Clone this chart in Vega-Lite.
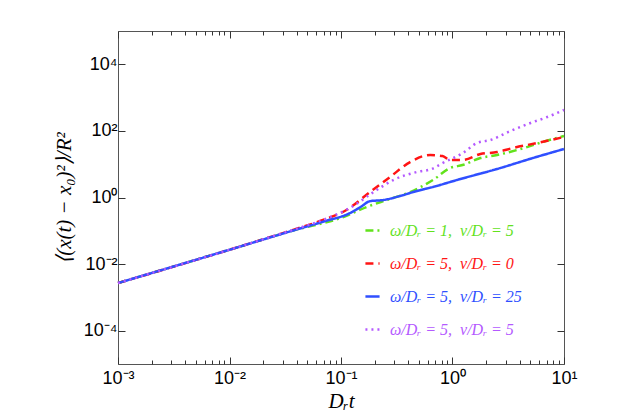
{
  "$schema": "https://vega.github.io/schema/vega-lite/v6.json",
  "description": "Mean squared displacement against Dr t, log-log, four parameter sets",
  "width": 446,
  "height": 333,
  "autosize": "none",
  "padding": {"left": 118, "top": 31, "right": 59, "bottom": 50},
  "background": "white",
  "config": {
    "view": {"stroke": "#555555", "strokeWidth": 1},
    "axis": {
      "grid": false,
      "domain": false,
      "labelFont": "Liberation Sans",
      "labelFontSize": 18,
      "labelColor": "black",
      "tickColor": "#333333",
      "titleFont": "Liberation Serif",
      "titleFontStyle": "italic",
      "titleFontWeight": "normal",
      "titleFontSize": 21,
      "titleColor": "black"
    }
  },
  "data": {
    "values": [
      {"series": "ω/Dᵣ = 1,\u2002ν/Dᵣ = 5", "t": 0.001, "msd": 0.0027},
      {"series": "ω/Dᵣ = 1,\u2002ν/Dᵣ = 5", "t": 0.01, "msd": 0.027},
      {"series": "ω/Dᵣ = 1,\u2002ν/Dᵣ = 5", "t": 0.0372, "msd": 0.102},
      {"series": "ω/Dᵣ = 1,\u2002ν/Dᵣ = 5", "t": 0.105, "msd": 0.26},
      {"series": "ω/Dᵣ = 1,\u2002ν/Dᵣ = 5", "t": 0.17, "msd": 0.519},
      {"series": "ω/Dᵣ = 1,\u2002ν/Dᵣ = 5", "t": 0.257, "msd": 0.841},
      {"series": "ω/Dᵣ = 1,\u2002ν/Dᵣ = 5", "t": 0.417, "msd": 1.46},
      {"series": "ω/Dᵣ = 1,\u2002ν/Dᵣ = 5", "t": 0.668, "msd": 3.35},
      {"series": "ω/Dᵣ = 1,\u2002ν/Dᵣ = 5", "t": 0.955, "msd": 7.69},
      {"series": "ω/Dᵣ = 1,\u2002ν/Dᵣ = 5", "t": 1.23, "msd": 9.46},
      {"series": "ω/Dᵣ = 1,\u2002ν/Dᵣ = 5", "t": 1.78, "msd": 15.3},
      {"series": "ω/Dᵣ = 1,\u2002ν/Dᵣ = 5", "t": 2.51, "msd": 18.9},
      {"series": "ω/Dᵣ = 1,\u2002ν/Dᵣ = 5", "t": 3.8, "msd": 26.7},
      {"series": "ω/Dᵣ = 1,\u2002ν/Dᵣ = 5", "t": 7.41, "msd": 53.3},
      {"series": "ω/Dᵣ = 1,\u2002ν/Dᵣ = 5", "t": 10, "msd": 70.3},

      {"series": "ω/Dᵣ = 5,\u2002ν/Dᵣ = 0", "t": 0.001, "msd": 0.0027},
      {"series": "ω/Dᵣ = 5,\u2002ν/Dᵣ = 0", "t": 0.01, "msd": 0.027},
      {"series": "ω/Dᵣ = 5,\u2002ν/Dᵣ = 0", "t": 0.0372, "msd": 0.107},
      {"series": "ω/Dᵣ = 5,\u2002ν/Dᵣ = 0", "t": 0.069, "msd": 0.211},
      {"series": "ω/Dᵣ = 5,\u2002ν/Dᵣ = 0", "t": 0.112, "msd": 0.422},
      {"series": "ω/Dᵣ = 5,\u2002ν/Dᵣ = 0", "t": 0.182, "msd": 1.46},
      {"series": "ω/Dᵣ = 5,\u2002ν/Dᵣ = 0", "t": 0.275, "msd": 4.13},
      {"series": "ω/Dᵣ = 5,\u2002ν/Dᵣ = 0", "t": 0.417, "msd": 11.6},
      {"series": "ω/Dᵣ = 5,\u2002ν/Dᵣ = 0", "t": 0.631, "msd": 18.9},
      {"series": "ω/Dᵣ = 5,\u2002ν/Dᵣ = 0", "t": 0.813, "msd": 17.6},
      {"series": "ω/Dᵣ = 5,\u2002ν/Dᵣ = 0", "t": 0.955, "msd": 13.4},
      {"series": "ω/Dᵣ = 5,\u2002ν/Dᵣ = 0", "t": 1.23, "msd": 13.4},
      {"series": "ω/Dᵣ = 5,\u2002ν/Dᵣ = 0", "t": 1.78, "msd": 20.2},
      {"series": "ω/Dᵣ = 5,\u2002ν/Dᵣ = 0", "t": 2.51, "msd": 23.2},
      {"series": "ω/Dᵣ = 5,\u2002ν/Dᵣ = 0", "t": 3.47, "msd": 30.6},
      {"series": "ω/Dᵣ = 5,\u2002ν/Dᵣ = 0", "t": 5.75, "msd": 43.3},
      {"series": "ω/Dᵣ = 5,\u2002ν/Dᵣ = 0", "t": 10, "msd": 65.6},

      {"series": "ω/Dᵣ = 5,\u2002ν/Dᵣ = 25", "t": 0.001, "msd": 0.0027},
      {"series": "ω/Dᵣ = 5,\u2002ν/Dᵣ = 25", "t": 0.01, "msd": 0.027},
      {"series": "ω/Dᵣ = 5,\u2002ν/Dᵣ = 25", "t": 0.0372, "msd": 0.102},
      {"series": "ω/Dᵣ = 5,\u2002ν/Dᵣ = 25", "t": 0.07, "msd": 0.19},
      {"series": "ω/Dᵣ = 5,\u2002ν/Dᵣ = 25", "t": 0.12, "msd": 0.339},
      {"series": "ω/Dᵣ = 5,\u2002ν/Dᵣ = 25", "t": 0.15, "msd": 0.52},
      {"series": "ω/Dᵣ = 5,\u2002ν/Dᵣ = 25", "t": 0.182, "msd": 0.776},
      {"series": "ω/Dᵣ = 5,\u2002ν/Dᵣ = 25", "t": 0.24, "msd": 0.841},
      {"series": "ω/Dᵣ = 5,\u2002ν/Dᵣ = 25", "t": 0.339, "msd": 1.11},
      {"series": "ω/Dᵣ = 5,\u2002ν/Dᵣ = 25", "t": 0.479, "msd": 1.57},
      {"series": "ω/Dᵣ = 5,\u2002ν/Dᵣ = 25", "t": 0.668, "msd": 2.07},
      {"series": "ω/Dᵣ = 5,\u2002ν/Dᵣ = 25", "t": 1.096, "msd": 3.35},
      {"series": "ω/Dᵣ = 5,\u2002ν/Dᵣ = 25", "t": 2.69, "msd": 7.69},
      {"series": "ω/Dᵣ = 5,\u2002ν/Dᵣ = 25", "t": 5.25, "msd": 15.3},
      {"series": "ω/Dᵣ = 5,\u2002ν/Dᵣ = 25", "t": 10, "msd": 28.6},

      {"series": "ω/Dᵣ = 5,\u2002ν/Dᵣ = 5", "t": 0.001, "msd": 0.0027},
      {"series": "ω/Dᵣ = 5,\u2002ν/Dᵣ = 5", "t": 0.01, "msd": 0.027},
      {"series": "ω/Dᵣ = 5,\u2002ν/Dᵣ = 5", "t": 0.0372, "msd": 0.107},
      {"series": "ω/Dᵣ = 5,\u2002ν/Dᵣ = 5", "t": 0.069, "msd": 0.211},
      {"series": "ω/Dᵣ = 5,\u2002ν/Dᵣ = 5", "t": 0.12, "msd": 0.484},
      {"series": "ω/Dᵣ = 5,\u2002ν/Dᵣ = 5", "t": 0.209, "msd": 1.68},
      {"series": "ω/Dᵣ = 5,\u2002ν/Dᵣ = 5", "t": 0.295, "msd": 3.35},
      {"series": "ω/Dᵣ = 5,\u2002ν/Dᵣ = 5", "t": 0.479, "msd": 5.83},
      {"series": "ω/Dᵣ = 5,\u2002ν/Dᵣ = 5", "t": 0.65, "msd": 7.2},
      {"series": "ω/Dᵣ = 5,\u2002ν/Dᵣ = 5", "t": 0.82, "msd": 10.9},
      {"series": "ω/Dᵣ = 5,\u2002ν/Dᵣ = 5", "t": 1.24, "msd": 21.7},
      {"series": "ω/Dᵣ = 5,\u2002ν/Dᵣ = 5", "t": 1.66, "msd": 43.4},
      {"series": "ω/Dᵣ = 5,\u2002ν/Dᵣ = 5", "t": 2.19, "msd": 53.3},
      {"series": "ω/Dᵣ = 5,\u2002ν/Dᵣ = 5", "t": 3.31, "msd": 99.3},
      {"series": "ω/Dᵣ = 5,\u2002ν/Dᵣ = 5", "t": 5.01, "msd": 173},
      {"series": "ω/Dᵣ = 5,\u2002ν/Dᵣ = 5", "t": 7.08, "msd": 261},
      {"series": "ω/Dᵣ = 5,\u2002ν/Dᵣ = 5", "t": 10, "msd": 425}
    ]
  },
  "layer": [
    {
      "mark": {"type": "line", "strokeWidth": 2.5, "interpolate": "monotone"},
      "encoding": {
        "x": {
          "field": "t",
          "type": "quantitative",
          "scale": {"type": "log", "domain": [0.001, 10], "nice": false},
          "axis": {
            "orient": "bottom",
            "values": [0.001, 0.002, 0.003, 0.004, 0.005, 0.006, 0.007, 0.008, 0.009, 0.01, 0.02, 0.03, 0.04, 0.05, 0.06, 0.07, 0.08, 0.09, 0.1, 0.2, 0.3, 0.4, 0.5, 0.6, 0.7, 0.8, 0.9, 1, 2, 3, 4, 5, 6, 7, 8, 9, 10],
            "labelExpr": "datum.value == 0.001 ? '10⁻³' : datum.value == 0.01 ? '10⁻²' : datum.value == 0.1 ? '10⁻¹' : datum.value == 1 ? '10⁰' : datum.value == 10 ? '10¹' : ''",
            "tickSize": {"condition": {"test": "indexof([0.001, 0.01, 0.1, 1, 10], datum.value) >= 0", "value": -7}, "value": -4},
            "labelFlush": false,
            "labelOverlap": false,
            "labelPadding": 12,
            "title": "Dᵣt",
            "titlePadding": 0
          }
        },
        "y": {
          "field": "msd",
          "type": "quantitative",
          "scale": {"type": "log", "domain": [0.00001, 100000], "nice": false},
          "axis": {
            "orient": "left",
            "values": [0.0001, 0.01, 1, 100, 10000],
            "labelExpr": "datum.value == 0.0001 ? '10⁻⁴' : datum.value == 0.01 ? '10⁻²' : datum.value == 1 ? '10⁰' : datum.value == 100 ? '10²' : '10⁴'",
            "tickSize": -7,
            "labelPadding": 8,
            "title": "⟨(x(t) − x₀)²⟩/R²",
            "titlePadding": 9
          }
        },
        "color": {
          "field": "series",
          "type": "nominal",
          "scale": {
            "domain": ["ω/Dᵣ = 1,\u2002ν/Dᵣ = 5", "ω/Dᵣ = 5,\u2002ν/Dᵣ = 0", "ω/Dᵣ = 5,\u2002ν/Dᵣ = 25", "ω/Dᵣ = 5,\u2002ν/Dᵣ = 5"],
            "range": ["#62e21c", "#ff1414", "#2f4fff", "#b459ff"]
          },
          "legend": {
            "title": null,
            "orient": "none",
            "legendX": 246,
            "legendY": 191,
            "symbolType": "stroke",
            "symbolSize": 200,
            "symbolStrokeWidth": 2.5,
            "labelFont": "Liberation Serif",
            "labelFontStyle": "italic",
            "labelFontSize": 16,
            "labelOffset": 9,
            "rowPadding": 16,
            "encode": {"labels": {"update": {"fill": {"scale": "color", "field": "value"}}}}
          }
        },
        "strokeDash": {
          "field": "series",
          "type": "nominal",
          "scale": {
            "domain": ["ω/Dᵣ = 1,\u2002ν/Dᵣ = 5", "ω/Dᵣ = 5,\u2002ν/Dᵣ = 0", "ω/Dᵣ = 5,\u2002ν/Dᵣ = 25", "ω/Dᵣ = 5,\u2002ν/Dᵣ = 5"],
            "range": [[8, 4, 2, 4], [8, 5], [1, 0], [2, 4]]
          },
          "legend": {
            "title": null,
            "orient": "none",
            "legendX": 246,
            "legendY": 191,
            "symbolType": "stroke",
            "symbolSize": 200,
            "symbolStrokeWidth": 2.5,
            "labelFont": "Liberation Serif",
            "labelFontStyle": "italic",
            "labelFontSize": 16,
            "labelOffset": 9,
            "rowPadding": 16,
            "encode": {"labels": {"update": {"fill": {"scale": "color", "field": "value"}}}}
          }
        }
      }
    },
    {
      "mark": {"type": "line", "opacity": 0},
      "encoding": {
        "x": {
          "field": "t",
          "type": "quantitative",
          "axis": {
            "orient": "top",
            "values": [0.001, 0.002, 0.003, 0.004, 0.005, 0.006, 0.007, 0.008, 0.009, 0.01, 0.02, 0.03, 0.04, 0.05, 0.06, 0.07, 0.08, 0.09, 0.1, 0.2, 0.3, 0.4, 0.5, 0.6, 0.7, 0.8, 0.9, 1, 2, 3, 4, 5, 6, 7, 8, 9, 10],
            "labels": false,
            "tickSize": {"condition": {"test": "indexof([0.001, 0.01, 0.1, 1, 10], datum.value) >= 0", "value": -7}, "value": -4},
            "title": null
          }
        },
        "y": {
          "field": "msd",
          "type": "quantitative",
          "axis": {
            "orient": "right",
            "values": [0.0001, 0.01, 1, 100, 10000],
            "labels": false,
            "tickSize": -7,
            "title": null
          }
        },
        "detail": {"field": "series", "type": "nominal"}
      }
    }
  ],
  "resolve": {"axis": {"x": "independent", "y": "independent"}}
}
